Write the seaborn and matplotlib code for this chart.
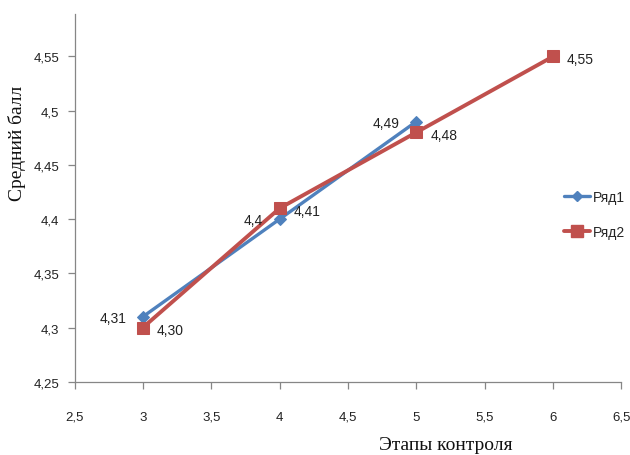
import matplotlib
matplotlib.use("Agg")
import matplotlib.pyplot as plt
import seaborn as sns
import pandas as pd
from matplotlib.lines import Line2D

# Data
stages_1 = [3, 4, 5]
scores_1 = [4.31, 4.40, 4.49]
stages_2 = [3, 4, 5, 6]
scores_2 = [4.30, 4.41, 4.48, 4.55]
series_names = ["Ряд1", "Ряд2"]
x_ticks = [2.5, 3, 3.5, 4, 4.5, 5, 5.5, 6, 6.5]
y_ticks = [4.25, 4.3, 4.35, 4.4, 4.45, 4.5, 4.55]

blue = "#4F81BD"
red = "#C0504D"
axis_grey = "#868686"

sns.set_theme(style="white")
plt.rcParams["font.family"] = ["Liberation Sans", "DejaVu Sans"]

df1 = pd.DataFrame({"x": stages_1, "y": scores_1})
df2 = pd.DataFrame({"x": stages_2, "y": scores_2})

fig = plt.figure(figsize=(6.3, 4.56), dpi=100)
ax = fig.add_axes([0.1184, 0.1607, 0.868, 0.806])

sns.lineplot(data=df1, x="x", y="y", ax=ax, color=blue, linewidth=2.4,
             marker="D", markersize=6, markeredgecolor=blue, sort=False,
             zorder=3)
sns.lineplot(data=df2, x="x", y="y", ax=ax, color=red, linewidth=2.8,
             marker="s", markersize=9, markeredgecolor=red, sort=False,
             zorder=4)


def comma(s):
    return s.replace(".", ",")


label_kw = dict(fontsize=10, color="#222222", va="center", zorder=5)
for x, y in zip(stages_1, scores_1):
    ax.annotate(comma(f"{y:g}"), (x, y), xytext=(-12, -1),
                textcoords="offset points", ha="right", **label_kw)
for x, y in zip(stages_2, scores_2):
    ax.annotate(comma(f"{y:.2f}"), (x, y), xytext=(10, -2),
                textcoords="offset points", ha="left", **label_kw)

ax.set_xlim(2.5, 6.5)
ax.set_ylim(4.25, 4.589)
ax.set_xticks(x_ticks)
ax.set_yticks(y_ticks)
ax.set_xticklabels([comma(f"{t:g}") for t in x_ticks], fontsize=9.5,
                   color="#222222")
ax.set_yticklabels([comma(f"{t:g}") for t in y_ticks], fontsize=9.5,
                   color="#222222")
ax.tick_params(axis="both", direction="out", length=5, width=0.9,
               color=axis_grey, bottom=True, left=True)
ax.tick_params(axis="x", pad=16)
ax.tick_params(axis="y", pad=6)

for side in ["top", "right"]:
    ax.spines[side].set_visible(False)
for side in ["left", "bottom"]:
    ax.spines[side].set_color(axis_grey)
    ax.spines[side].set_linewidth(0.9)

ax.set_xlabel("")
ax.set_ylabel("")
fig.text(0.027, 0.685, "Средний балл", rotation=90, ha="center",
         va="center", fontsize=14, family="Liberation Serif", color="#111111")
fig.text(0.708, 0.022, "Этапы контроля", ha="center", va="center",
         fontsize=14, family="Liberation Serif", color="#111111")

handles = [
    Line2D([], [], color=blue, linewidth=2.4, marker="D", markersize=5),
    Line2D([], [], color=red, linewidth=2.8, marker="s", markersize=9),
]
fig.legend(handles, series_names, loc="center left",
           bbox_to_anchor=(0.895, 0.528), frameon=False, fontsize=10,
           handlelength=1.9, handletextpad=0.2, labelspacing=1.5,
           borderaxespad=0, borderpad=0)

fig.savefig("out.png", dpi=100)
